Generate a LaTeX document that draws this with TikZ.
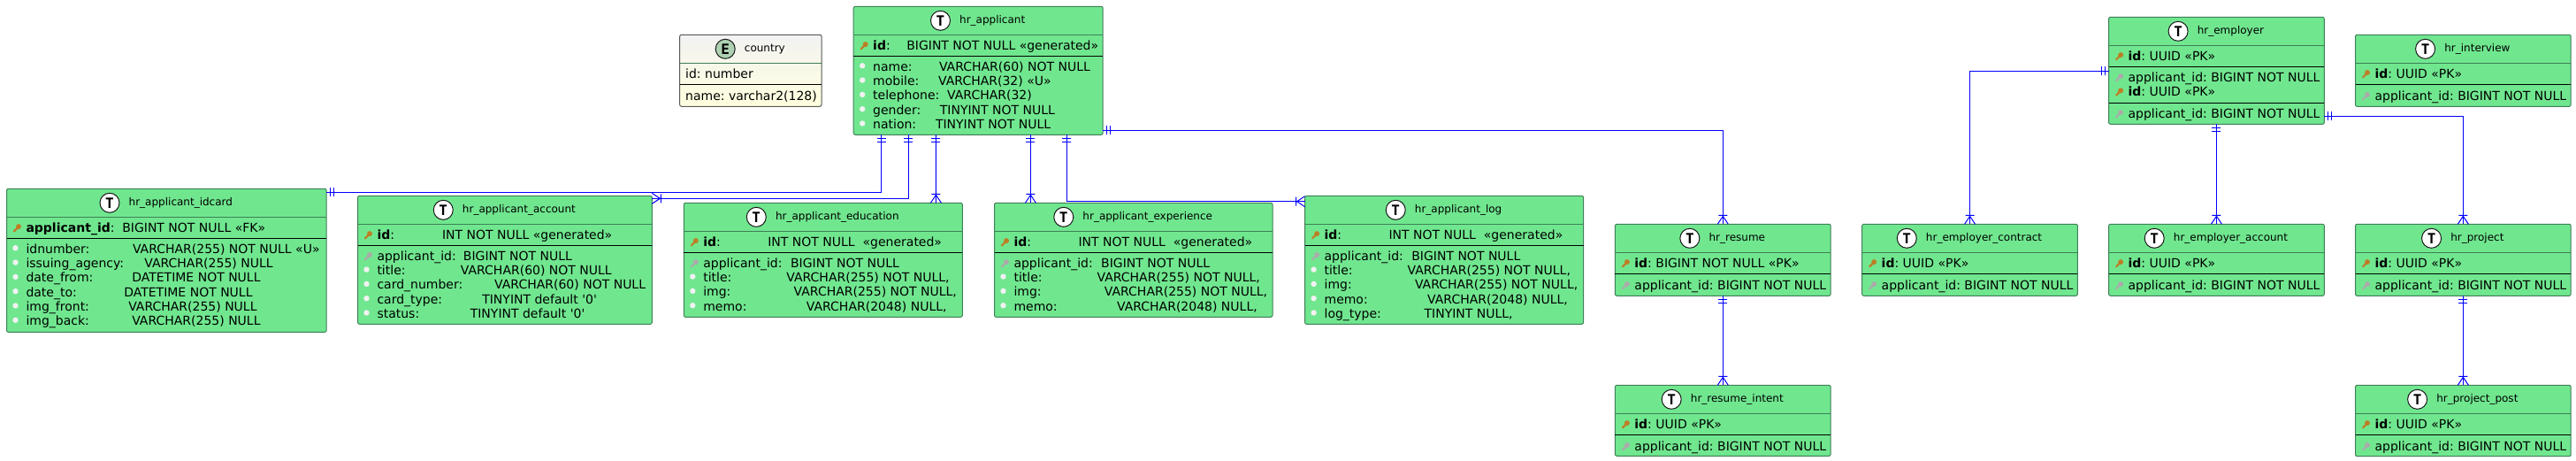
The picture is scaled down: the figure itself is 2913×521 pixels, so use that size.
\documentclass[tikz,border=0pt]{standalone}
\usepackage{fontspec}
\setmainfont{DejaVu Sans}
\newfontfamily\badgefont{DejaVu Sans Mono}
\usetikzlibrary{positioning,arrows.meta}

\definecolor{tblgreen}{HTML}{70E78F}
\definecolor{tbledge}{HTML}{3F7F57}
\definecolor{keyorange}{HTML}{BC7F26}
\definecolor{keygray}{HTML}{ABABAB}
\definecolor{linkblue}{HTML}{0000FF}
\definecolor{entcircle}{HTML}{ADD1B2}

% crow's foot ends
\pgfdeclarearrow{
  name=OneBar,
  setup code={\pgfarrowssettipend{0pt}\pgfarrowssetlineend{0pt}%
    \pgfarrowssetbackend{-9pt}\pgfarrowssetvisualbackend{-9pt}},
  drawing code={
    \pgfpathmoveto{\pgfpoint{-4pt}{-5pt}}\pgfpathlineto{\pgfpoint{-4pt}{5pt}}
    \pgfpathmoveto{\pgfpoint{-8pt}{-5pt}}\pgfpathlineto{\pgfpoint{-8pt}{5pt}}
    \pgfusepathqstroke},
}
\pgfdeclarearrow{
  name=ManyFoot,
  setup code={\pgfarrowssettipend{0pt}\pgfarrowssetlineend{0pt}%
    \pgfarrowssetbackend{-11pt}\pgfarrowssetvisualbackend{-11pt}},
  drawing code={
    \pgfpathmoveto{\pgfpoint{-10pt}{-5pt}}\pgfpathlineto{\pgfpoint{-10pt}{5pt}}
    \pgfpathmoveto{\pgfpoint{0pt}{-6pt}}\pgfpathlineto{\pgfpoint{-9pt}{0pt}}
    \pgfpathlineto{\pgfpoint{0pt}{6pt}}
    \pgfusepathqstroke},
}

\tikzset{
  tbl/.style={draw=tbledge, fill=tblgreen, line width=1pt, rounded corners=2pt,
              inner sep=0pt, outer sep=0pt, anchor=north west},
  ent/.style={tbl, draw=black!65, top color=black!5, bottom color=yellow!13},
  attr/.style={font=\fontsize{14}{16}\selectfont\frenchspacing, inner sep=0pt, outer sep=0pt, anchor=base west},
  tname/.style={font=\fontsize{12}{14}\selectfont, inner sep=0pt},
  badgefill/.style={fill=white},
  badge/.style={draw=black!90, badgefill, circle, minimum size=22pt, inner sep=0pt,
                line width=1pt, font=\fontsize{16}{16}\selectfont\badgefont\bfseries},
  hline/.style={draw=tbledge, line width=1pt},
  sepline/.style={draw=black, line width=1pt},
  link/.style={draw=linkblue, line width=1pt, OneBar-ManyFoot},
  oneone/.style={draw=linkblue, line width=1pt, OneBar-OneBar},
  dot/.pic={\fill[black!5] (-12,-6) circle (3.2);},
  pk/.pic={\fill[keyorange] (-8.5,-6.2) circle (3);
           \draw[keyorange, line width=2.2pt, line cap=round] (-9.5,-5) -- (-13.5,-1);},
  fk/.pic={\fill[keygray] (-8.5,-6.2) circle (3);
           \draw[keygray, line width=2.2pt, line cap=round] (-9.5,-5) -- (-13.5,-1);},
}

% box, title and the two rules of a table
\newcommand{\tablebox}[7][tbl]{
  \node[#1, minimum width=#4pt, minimum height=#5pt] (#2) at (#3) {};
  \node[tname] (#2-name) at ([xshift=16pt,yshift=-16pt]#2.north) {#6};
  \node[badge, left=10pt of #2-name] (#2-badge) {#7};
  \draw[hline] ([yshift=-32pt]#2.north west) -- ([yshift=-32pt]#2.north east);
  \draw[sepline] ([yshift=-56pt]#2.north west) -- ([yshift=-56pt]#2.north east);
}
% rows: table, first baseline below the top, kind/name/offset of type/type
\newcommand{\tablerows}[3]{
  \foreach \kind/\fname/\off/\ftype [count=\i] in {#3} {
    \node[attr] (#1-#2-\i) at ([xshift=22pt,yshift=-#2pt-16.3pt*(\i-1)]#1.north west)
      {\rlap{\fname}\hspace*{\off pt}\ftype};
    \pic at (#1-#2-\i.base west) {\kind};
  }
}
\newcommand{\sq}{\textquotesingle}

\begin{document}
\begin{tikzpicture}[x=1pt, y=-1pt]
\useasboundingbox (0,0) rectangle (2913,521);

% Applicant side
\begin{scope}[badgefill/.style={fill=entcircle}]
\tablebox[ent]{country}{768.7,39.3}{160.3}{81}{country}{E}
\end{scope}
\node[attr] (country-id) at ([xshift=6.5pt,yshift=-49pt]country.north west) {id: number};
\node[attr] (country-nm) at ([xshift=6.5pt,yshift=-74pt]country.north west) {name: varchar2(128)};

\tablebox{applicant}{965.2,7.3}{282}{145}{hr\_applicant}{T}
\tablerows{applicant}{49}{pk/\textbf{id}:/38.1/BIGINT NOT NULL «generated»}
\tablerows{applicant}{73}{
  dot/name:/74.8/VARCHAR(60) NOT NULL,
  dot/mobile:/74/VARCHAR(32) «U»,
  dot/telephone:/84/VARCHAR(32),
  dot/gender:/75.7/TINYINT NOT NULL,
  dot/nation:/70.8/TINYINT NOT NULL}

\tablebox{idcard}{7.5,213.3}{361.7}{162}{hr\_applicant\_idcard}{T}
\tablerows{idcard}{49}{pk/\textbf{applicant\_id}:/108.8/BIGINT NOT NULL «FK»}
\tablerows{idcard}{73}{
  dot/idnumber:/120.5/VARCHAR(255) NOT NULL «U»,
  dot/issuing\_agency:/133.8/VARCHAR(255) NULL,
  dot/date\_from:/119.8/DATETIME NOT NULL,
  dot/date\_to:/110.8/DATETIME NOT NULL,
  dot/img\_front:/115.8/VARCHAR(255) NULL,
  dot/img\_back:/119.8/VARCHAR(255) NULL}

\tablebox{account}{404.5,221.3}{332.8}{145}{hr\_applicant\_account}{T}
\tablerows{account}{49}{pk/\textbf{id}:/73.5/INT NOT NULL «generated»}
\tablerows{account}{73}{
  fk/applicant\_id:/97.4/BIGINT NOT NULL,
  dot/title:/94.4/VARCHAR(60) NOT NULL,
  dot/card\_number:/132.7/VARCHAR(60) NOT NULL,
  dot/card\_type:/118.8/TINYINT default \sq0\sq,
  dot/status:/105.3/TINYINT default \sq0\sq}

\tablebox{education}{773.3,229.3}{315}{129}{hr\_applicant\_education}{T}
\tablerows{education}{49}{pk/\textbf{id}:/73/INT NOT NULL~~«generated»}
\tablerows{education}{73}{
  fk/applicant\_id:/98.7/BIGINT NOT NULL,
  dot/title:/94.1/{VARCHAR(255) NOT NULL,},
  dot/img:/102.4/{VARCHAR(255) NOT NULL,},
  dot/memo:/116.6/{VARCHAR(2048) NULL,}}

\tablebox{experience}{1124.5,229.3}{314.5}{129}{hr\_applicant\_experience}{T}
\tablerows{experience}{49}{pk/\textbf{id}:/73/INT NOT NULL~~«generated»}
\tablerows{experience}{73}{
  fk/applicant\_id:/98.7/BIGINT NOT NULL,
  dot/title:/94.1/{VARCHAR(255) NOT NULL,},
  dot/img:/102.4/{VARCHAR(255) NOT NULL,},
  dot/memo:/116.6/{VARCHAR(2048) NULL,}}

\tablebox{log}{1475.6,221.3}{315}{145}{hr\_applicant\_log}{T}
\tablerows{log}{49}{pk/\textbf{id}:/73/INT NOT NULL~~«generated»}
\tablerows{log}{73}{
  fk/applicant\_id:/98.7/BIGINT NOT NULL,
  dot/title:/94.1/{VARCHAR(255) NOT NULL,},
  dot/img:/102.4/{VARCHAR(255) NOT NULL,},
  dot/memo:/116.6/{VARCHAR(2048) NULL,},
  dot/log\_type:/113/{TINYINT NULL,}}

\tablebox{resume}{1826.4,253.3}{243.8}{81}{hr\_resume}{T}
\tablerows{resume}{49}{pk/{}/0/\textbf{id}: BIGINT NOT NULL «PK»}
\tablerows{resume}{74}{fk/{}/0/applicant\_id: BIGINT NOT NULL}

\tablebox{intent}{1826.4,435.3}{243.8}{80}{hr\_resume\_intent}{T}
\tablerows{intent}{49}{pk/{}/0/\textbf{id}: UUID «PK»}
\tablerows{intent}{74}{fk/{}/0/applicant\_id: BIGINT NOT NULL}

% Employer side
\tablebox{employer}{2384.6,19.3}{243.7}{121}{hr\_employer}{T}
\draw[sepline] ([yshift=-97pt]employer.north west) -- ([yshift=-97pt]employer.north east);
\tablerows{employer}{49}{pk/{}/0/\textbf{id}: UUID «PK»}
\tablerows{employer}{73}{
  fk/{}/0/applicant\_id: BIGINT NOT NULL,
  pk/{}/0/\textbf{id}: UUID «PK»}
\tablerows{employer}{114}{fk/{}/0/applicant\_id: BIGINT NOT NULL}

\tablebox{interview}{2663.5,39.3}{243.7}{81}{hr\_interview}{T}
\tablerows{interview}{49}{pk/{}/0/\textbf{id}: UUID «PK»}
\tablerows{interview}{74}{fk/{}/0/applicant\_id: BIGINT NOT NULL}

\tablebox{contract}{2105.7,253.3}{243.7}{81}{hr\_employer\_contract}{T}
\tablerows{contract}{49}{pk/{}/0/\textbf{id}: UUID «PK»}
\tablerows{contract}{74}{fk/{}/0/applicant\_id: BIGINT NOT NULL}

\tablebox{empaccount}{2384.6,253.3}{243.7}{81}{hr\_employer\_account}{T}
\tablerows{empaccount}{49}{pk/{}/0/\textbf{id}: UUID «PK»}
\tablerows{empaccount}{74}{fk/{}/0/applicant\_id: BIGINT NOT NULL}

\tablebox{project}{2663.5,253.3}{243.7}{81}{hr\_project}{T}
\tablerows{project}{49}{pk/{}/0/\textbf{id}: UUID «PK»}
\tablerows{project}{74}{fk/{}/0/applicant\_id: BIGINT NOT NULL}

\tablebox{post}{2663.5,435.3}{243.7}{80.4}{hr\_project\_post}{T}
\tablerows{post}{49}{pk/{}/0/\textbf{id}: UUID «PK»}
\tablerows{post}{74}{fk/{}/0/applicant\_id: BIGINT NOT NULL}

% Links
\draw[oneone] ([xshift=31.3pt]applicant.south west) |- ([yshift=-4pt]idcard.north east);
\draw[link] ([xshift=62pt]applicant.south west) |- ([yshift=-3pt]account.north east);
\draw[link] ([xshift=93.2pt]applicant.south west) -- ([xshift=285.1pt]education.north west);
\draw[link] ([xshift=200.2pt]applicant.south west) -- ([xshift=40.9pt]experience.north west);
\draw[link] ([xshift=241.1pt]applicant.south west) |- ([yshift=-6.4pt]log.north west);
\draw[link] ([yshift=5pt]applicant.south east) -| (resume.north);
\draw[link] (resume.south) -- (intent.north);
\draw[link] ([yshift=-61pt]employer.north west) -| (contract.north);
\draw[link] (employer.south) -- (empaccount.north);
\draw[link] ([yshift=9pt]employer.south east) -| (project.north);
\draw[link] (project.south) -- (post.north);
\end{tikzpicture}
\end{document}
